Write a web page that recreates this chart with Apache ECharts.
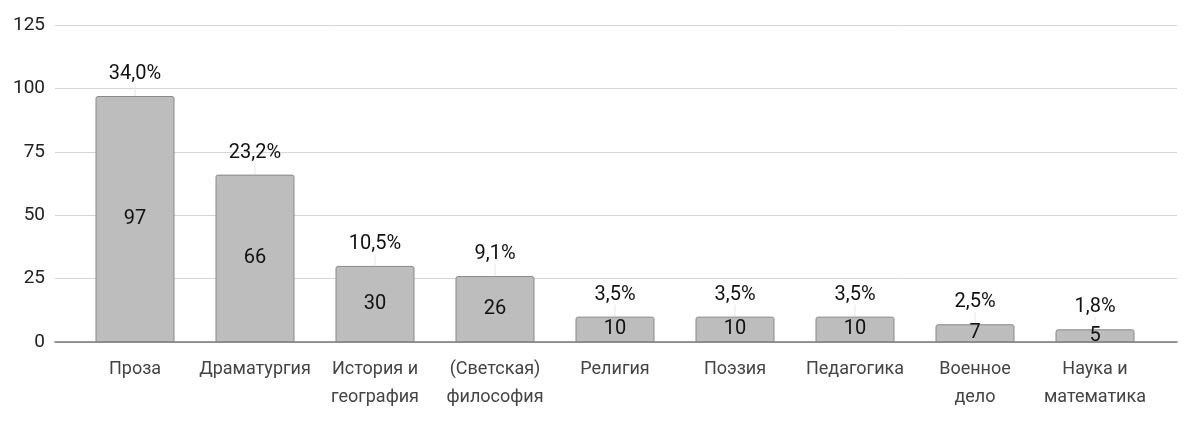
<!DOCTYPE html>
<html>
<head>
<meta charset="utf-8">
<script src="https://cdn.jsdelivr.net/npm/echarts@6/dist/echarts.min.js"></script>
<style>
  html, body { margin: 0; padding: 0; background: #fff; }
  #chart { width: 1200px; height: 430px; }
</style>
</head>
<body>
<div id="chart"></div>
<script>
// данные
var categories = ['Проза', 'Драматургия', 'История и\nгеография', '(Светская)\nфилософия',
    'Религия', 'Поэзия', 'Педагогика', 'Военное\nдело', 'Наука и\nматематика'];
var counts = [97, 66, 30, 26, 10, 10, 10, 7, 5];
var shares = ['34,0%', '23,2%', '10,5%', '9,1%', '3,5%', '3,5%', '3,5%', '2,5%', '1,8%'];
var yTicks = [0, 25, 50, 75, 100, 125];

var font = 'Roboto, "Noto Sans", sans-serif';
var chart = echarts.init(document.getElementById('chart'));

var option = {
    animation: false,
    textStyle: { fontFamily: font },
    // grid 0 - столбцы, grid 1 - сетка и подписи оси Y
    grid: [
        { left: 75, right: 45, top: 25, bottom: 88 },
        { left: 55, right: 23, top: 25, bottom: 88 }
    ],
    xAxis: [
        {
            type: 'category', gridIndex: 0, data: categories,
            axisLine: { show: false }, axisTick: { show: false },
            axisLabel: { color: '#444', fontSize: 18, margin: 13, lineHeight: 28, interval: 0 }
        },
        {
            type: 'value', gridIndex: 1, min: 0, max: 1, show: true,
            axisLine: { show: true, onZero: false, lineStyle: { color: '#777', width: 1.5 } },
            axisTick: { show: false }, axisLabel: { show: false }, splitLine: { show: false }
        }
    ],
    yAxis: [
        {
            type: 'value', gridIndex: 0, min: yTicks[0], max: yTicks[yTicks.length - 1], interval: 25,
            axisLine: { show: false }, axisTick: { show: false },
            axisLabel: { show: false }, splitLine: { show: false }
        },
        {
            type: 'value', gridIndex: 1, min: yTicks[0], max: yTicks[yTicks.length - 1], interval: 25,
            axisLine: { show: false }, axisTick: { show: false },
            axisLabel: { color: '#222', fontSize: 19, margin: 10 },
            splitLine: { lineStyle: { color: '#d6d6d6', width: 1 } }
        }
    ],
    series: [
        {
            type: 'bar',
            xAxisIndex: 0, yAxisIndex: 0,
            data: counts,
            barWidth: 79,
            z: 3,
            itemStyle: { color: '#bdbdbd', borderColor: '#8a8a8a', borderWidth: 1, borderRadius: [2, 2, 0, 0] },
            label: { show: true, position: 'inside', color: '#111', fontSize: 20 }
        },
        {
            type: 'bar',
            xAxisIndex: 0, yAxisIndex: 0,
            data: counts,
            barWidth: 79,
            barGap: '-100%',
            z: 2,
            itemStyle: { color: 'transparent' },
            label: {
                show: true, position: 'top', distance: 11, color: '#111', fontSize: 20,
                formatter: function (p) { return shares[p.dataIndex]; }
            },
            labelLine: { show: true, lineStyle: { color: '#e6e6e6', width: 1 } },
            labelLayout: { dy: -1 }
        }
    ]
};

chart.setOption(option);
</script>
</body>
</html>
